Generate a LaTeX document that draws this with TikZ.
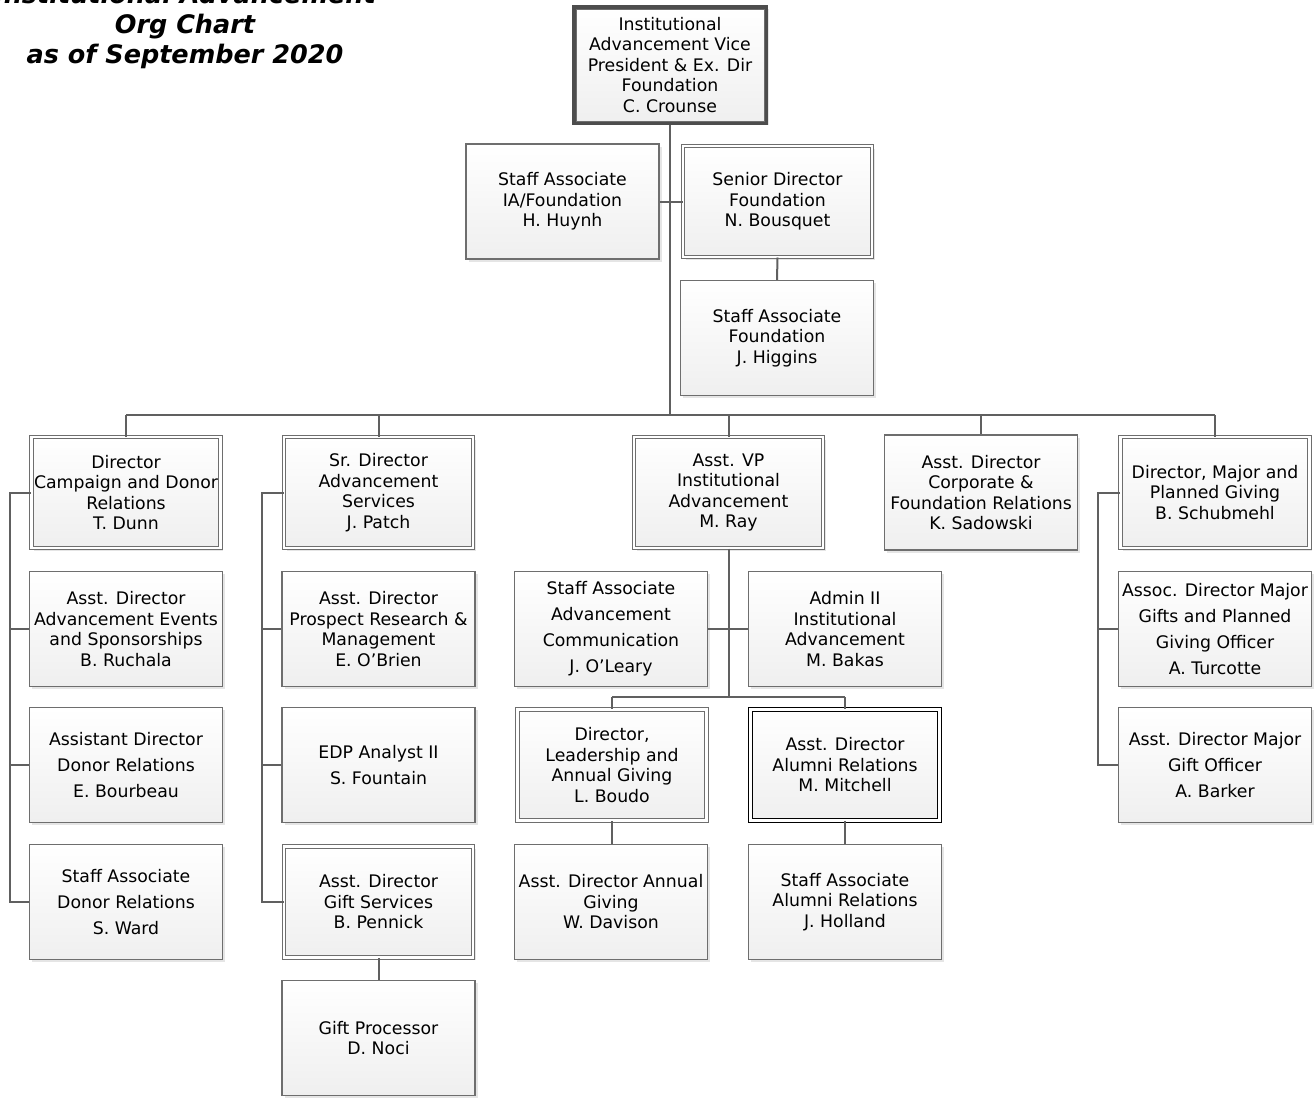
\documentclass[tikz,border=0pt]{standalone}
\usepackage{fontspec}
\setmainfont{DejaVu Sans}
\usetikzlibrary{shadows}
\definecolor{edgegray}{HTML}{606060}
\definecolor{boxgray}{HTML}{6E6E6E}
\definecolor{shadegray}{HTML}{EFEFEF}
\begin{document}
\begin{tikzpicture}[x=1pt,y=-1pt,
  font=\fontsize{17.3}{20.5}\selectfont,
  card/.style={draw=boxgray, line width=1.3pt, top color=white, bottom color=shadegray,
    minimum width=193pt, minimum height=115pt, align=center, inner sep=1pt,
    drop shadow={shadow xshift=2.5pt, shadow yshift=-2.5pt, fill=black, opacity=0.10}},
  dcard/.style={card, double=white, double distance=2.2pt, line width=1pt,
    minimum width=189pt, minimum height=111pt},
  kcard/.style={dcard, draw=black},
  wide/.style={font=\fontsize{17.3}{26}\selectfont},
  link/.style={draw=edgegray, line width=2pt}
]
\useasboundingbox (0,0) rectangle (1316,1097);

% title
\node[font=\fontsize{25.5}{30}\selectfont\bfseries\itshape, align=center] (title) at (185,26)
  {Institutional Advancement\\Org Chart\\as of September 2020};

% top of the chart
\node[card, draw=edgegray!80!black, line width=4pt, minimum width=192pt, minimum height=116pt] (top) at (670,65)
  {Institutional\\Advancement Vice\\President \& Ex. Dir\\Foundation\\C. Crounse};
\draw[boxgray, line width=0.8pt] ([xshift=4pt,yshift=-4pt]top.north west) rectangle ([xshift=-4pt,yshift=4pt]top.south east);

\node[card] (huynh) at (562.5,201.5) {Staff Associate\\IA/Foundation\\H. Huynh};
\node[dcard] (bousquet) at (777.5,201.5) {Senior Director\\Foundation\\N. Bousquet};
\node[card] (higgins) at (777,338) {Staff Associate\\Foundation\\J. Higgins};

% department heads
\node[dcard] (dunn) at (126,492.5) {Director\\Campaign and Donor\\Relations\\T. Dunn};
\node[dcard] (patch) at (378.5,492.5) {Sr. Director\\Advancement\\Services\\J. Patch};
\node[dcard] (ray) at (728.5,492.5) {Asst. VP\\Institutional\\Advancement\\M. Ray};
\node[card] (sadowski) at (981,492.5) {Asst. Director\\Corporate \&\\Foundation Relations\\K. Sadowski};
\node[dcard] (schubmehl) at (1215,492.5) {Director, Major and\\Planned Giving\\B. Schubmehl};

% campaign and donor relations
\node[card] (ruchala) at (126,629) {Asst. Director\\Advancement Events\\and Sponsorships\\B. Ruchala};
\node[card, wide] (bourbeau) at (126,765) {Assistant Director\\Donor Relations\\E. Bourbeau};
\node[card, wide] (ward) at (126,902) {Staff Associate\\Donor Relations\\S. Ward};

% advancement services
\node[card] (obrien) at (378.5,629) {Asst. Director\\Prospect Research \&\\Management\\E. O'Brien};
\node[card, wide] (fountain) at (378.5,765) {EDP Analyst II\\S. Fountain};
\node[dcard] (pennick) at (378.5,902) {Asst. Director\\Gift Services\\B. Pennick};
\node[card] (noci) at (378.5,1038) {Gift Processor\\D. Noci};

% institutional advancement
\node[card, wide] (oleary) at (611,629) {Staff Associate\\Advancement\\Communication\\J. O’Leary};
\node[card] (bakas) at (845,629) {Admin II\\Institutional\\Advancement\\M. Bakas};
\node[dcard] (boudo) at (612,765) {Director,\\Leadership and\\Annual Giving\\L. Boudo};
\node[kcard] (mitchell) at (845,765) {Asst. Director\\Alumni Relations\\M. Mitchell};
\node[card] (davison) at (611,902) {Asst. Director Annual\\Giving\\W. Davison};
\node[card] (holland) at (845,902) {Staff Associate\\Alumni Relations\\J. Holland};

% major and planned giving
\node[card, wide] (turcotte) at (1215,629) {Assoc. Director Major\\Gifts and Planned\\Giving Officer\\A. Turcotte};
\node[card, wide] (barker) at (1215,765) {Asst. Director Major\\Gift Officer\\A. Barker};

% junction points
\coordinate (bus) at (670,415);
\coordinate (busL) at (126,415);
\coordinate (busR) at (1215,415);
\coordinate (spineA) at (10,492.5);
\coordinate (spineB) at (262,492.5);
\coordinate (spineE) at (1098,492.5);
\coordinate (rayjoin) at (728.5,697);

% connectors
\draw[link] (top.south) -- (bus);
\draw[link] (huynh.east) -- (bousquet.west);
\draw[link] (bousquet.south) -- (higgins.north);
\draw[link] (busL) -- (busR);
\draw[link] (busL) -- (dunn.north);
\draw[link] (patch.north |- bus) -- (patch.north);
\draw[link] (ray.north |- bus) -- (ray.north);
\draw[link] (sadowski.north |- bus) -- (sadowski.north);
\draw[link] (busR) -- (schubmehl.north);

\draw[link] (dunn.west) -- (spineA) -- (spineA |- ward) -- (ward.west);
\draw[link] (spineA |- ruchala) -- (ruchala.west);
\draw[link] (spineA |- bourbeau) -- (bourbeau.west);

\draw[link] (patch.west) -- (spineB) -- (spineB |- pennick) -- (pennick.west);
\draw[link] (spineB |- obrien) -- (obrien.west);
\draw[link] (spineB |- fountain) -- (fountain.west);
\draw[link] (pennick.south) -- (noci.north);

\draw[link] (ray.south) -- (rayjoin);
\draw[link] (oleary.east) -- (bakas.west);
\draw[link] (boudo.north |- rayjoin) -- (mitchell.north |- rayjoin);
\draw[link] (boudo.north |- rayjoin) -- (boudo.north);
\draw[link] (mitchell.north |- rayjoin) -- (mitchell.north);
\draw[link] (boudo.south) -- (boudo.south |- davison.north);
\draw[link] (mitchell.south) -- (holland.north);

\draw[link] (schubmehl.west) -- (spineE) -- (spineE |- barker) -- (barker.west);
\draw[link] (spineE |- turcotte) -- (turcotte.west);
\end{tikzpicture}
\end{document}
